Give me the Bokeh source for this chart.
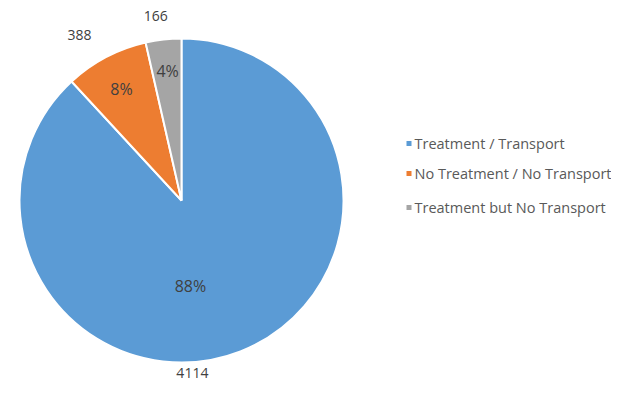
import math
from bokeh.plotting import figure
from bokeh.models import Range1d, ColumnDataSource
from bokeh.core.properties import value
from bokeh.embed import file_html
from bokeh.resources import INLINE

categories = ["Treatment / Transport", "No Treatment / No Transport", "Treatment but No Transport"]
counts = [4114, 388, 166]
colors = ["#5B9BD5", "#ED7D31", "#A5A5A5"]

W, H = 611, 384
p = figure(width=W, height=H, output_backend="svg", toolbar_location=None,
           x_range=Range1d(0, W), y_range=Range1d(400 - H, 400),
           min_border=0)
p.axis.visible = False
p.grid.visible = False
p.outline_line_color = None
p.background_fill_color = "white"

cx, cy, r = 181, 400 - 200, 162
total = sum(counts)
fracs = [c / total for c in counts]
cum = [0.0]
for f in fracs:
    cum.append(cum[-1] + f)
starts = [math.pi / 2 - 2 * math.pi * cum[i + 1] for i in range(len(counts))]
ends = [math.pi / 2 - 2 * math.pi * cum[i] for i in range(len(counts))]
mids = [(s + e) / 2 for s, e in zip(starts, ends)]

src = ColumnDataSource(dict(start=starts, end=ends, color=colors, cat=categories))
p.wedge(x=cx, y=cy, radius=r, start_angle="start", end_angle="end",
        fill_color="color", line_color="white", line_width=2, source=src)

# label placement (angle in radians, radius as a fraction of r)
pct_ang = [math.radians(-84), math.radians(118.2), math.radians(96.1)]
pct_rad = [0.528, 0.784, 0.807]
val_ang = [math.radians(-86.4), math.radians(121.6), math.radians(98)]
val_rad = [1.07, 1.203, 1.147]

pct = [f"{round(f * 100):d}%" for f in fracs]
px = [cx + pct_rad[i] * r * math.cos(pct_ang[i]) for i in range(3)]
py = [cy + pct_rad[i] * r * math.sin(pct_ang[i]) for i in range(3)]
p.text(x=px, y=py, text=pct, text_align="center", text_baseline="middle",
       text_font=value("Open Sans"), text_font_size="16px", text_color="#404040")

vx = [cx + val_rad[i] * r * math.cos(val_ang[i]) for i in range(3)]
vy = [cy + val_rad[i] * r * math.sin(val_ang[i]) for i in range(3)]
p.text(x=vx, y=vy, text=[str(c) for c in counts], text_align="center", text_baseline="middle",
       text_font=value("Open Sans"), text_font_size="14px", text_color="#404040")

# legend
ly = [400 - 143, 400 - 173, 400 - 207]
p.scatter(x=[408.5] * 3, y=ly, marker="square", size=5, fill_color=colors, line_color=None)
p.text(x=[414] * 3, y=ly, text=categories, text_align="left", text_baseline="middle",
       text_font=value("Open Sans"), text_font_size="14.5px", text_color="#595959")

open("out.html", "w").write(file_html(p, INLINE))
